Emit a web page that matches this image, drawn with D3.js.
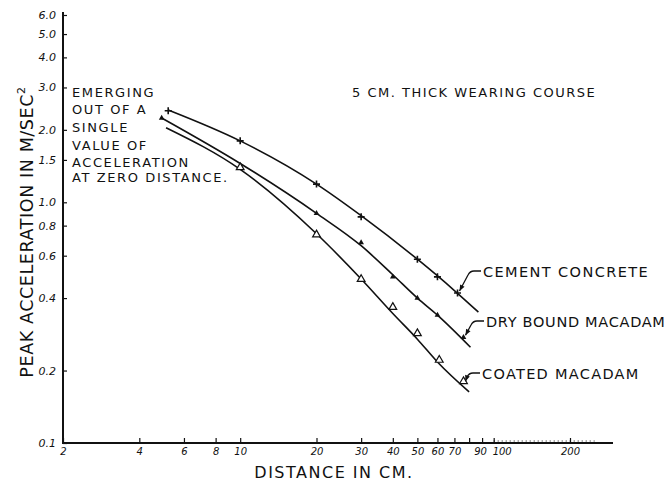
<!DOCTYPE html>
<html>
<head>
<meta charset="utf-8">
<script src="https://cdn.jsdelivr.net/npm/d3@7"></script>
<style>
  body { margin: 0; background: #fff; }
  svg text { font-family: "DejaVu Sans", sans-serif; fill: #111; }
</style>
</head>
<body>
<div id="app"></div>
<script>
// values (distance in cm, peak acceleration in m/s^2)
var xTicks = [2, 4, 6, 8, 10, 20, 30, 40, 50, 60, 70, 80, 90, 100, 200]
var xLabels = [2, 4, 6, 8, 10, 20, 30, 40, 50, 60, 70, 90, 100, 200]
var yTicks = [0.1, 0.2, 0.4, 0.6, 0.8, 1.0, 1.5, 2.0, 3.0, 4.0, 5.0, 6.0]

var cementLineX = [5.2, 10, 20, 30, 50, 70, 87]
var cementLineY = [2.42, 1.8, 1.19, 0.88, 0.58, 0.43, 0.35]
var cementPtsX = [5.2, 10, 20, 30, 50, 60, 72]
var cementPtsY = [2.4, 1.8, 1.19, 0.87, 0.58, 0.49, 0.42]

var dryLineX = [4.9, 10, 20, 30, 40, 50, 60, 81]
var dryLineY = [2.24, 1.45, 0.9, 0.66, 0.5, 0.4, 0.34, 0.25]
var dryPtsX = [4.9, 20, 30, 40, 50, 60, 76]
var dryPtsY = [2.24, 0.9, 0.68, 0.49, 0.4, 0.34, 0.275]

var coatedLineX = [5.1, 10, 20, 30, 40, 50, 60, 80]
var coatedLineY = [2.04, 1.37, 0.74, 0.48, 0.345, 0.27, 0.217, 0.163]
var coatedPtsX = [10, 20, 30, 40, 50, 61, 76]
var coatedPtsY = [1.37, 0.72, 0.47, 0.36, 0.28, 0.217, 0.177]

var noteLines = ['EMERGING', 'OUT OF A', 'SINGLE', 'VALUE OF', 'ACCELERATION', 'AT ZERO DISTANCE.']

var width = 670, height = 481

var x = d3.scaleLog().domain([2, 200]).range([63, 570])
var y = d3.scaleLog().domain([0.1, 6]).range([443, 15])

var svg = d3.select('#app').append('svg')
  .attr('width', width)
  .attr('height', height)

// x axis: ticks point up into the plot
var xAxis = d3.axisTop(x).tickValues(xTicks).tickSize(5)
  .tickFormat(function (d) { return xLabels.indexOf(d) >= 0 ? d : '' })
var gx = svg.append('g').attr('transform', 'translate(0,443)').call(xAxis)
gx.select('.domain').remove()
gx.selectAll('text').attr('y', 12).attr('font-size', 10)
  .attr('font-style', 'italic')
  .attr('dx', function (d) { return d === 100 ? 8 : (d === 90 ? -2 : 0) })
gx.selectAll('line').attr('stroke', '#111').attr('stroke-width', 1.2)
svg.append('line')
  .attr('x1', 63).attr('x2', 613).attr('y1', 443).attr('y2', 443)
  .attr('stroke', '#111').attr('stroke-width', 2)
// dotted minor ticks between 100 and 200
svg.append('line')
  .attr('x1', x(100)).attr('x2', x(250)).attr('y1', 441).attr('y2', 441)
  .attr('stroke', '#111').attr('stroke-width', 1).attr('stroke-dasharray', '1,3')

var yAxis = d3.axisRight(y).tickValues(yTicks).tickSize(4)
  .tickFormat(function (d) { return d3.format('.1f')(d) })
var gy = svg.append('g').attr('transform', 'translate(63,0)').call(yAxis)
gy.select('.domain').remove()
gy.selectAll('text').attr('x', -7).attr('text-anchor', 'end')
  .attr('font-size', 11).attr('font-style', 'italic')
gy.selectAll('line').attr('stroke', '#111').attr('stroke-width', 1.2)
svg.append('line')
  .attr('x1', 63).attr('x2', 63).attr('y1', 12).attr('y2', 444)
  .attr('stroke', '#111').attr('stroke-width', 2)

// axis titles
svg.append('text')
  .attr('x', 334).attr('y', 478)
  .attr('text-anchor', 'middle')
  .attr('font-size', 16)
  .attr('letter-spacing', 1.5)
  .text('DISTANCE IN CM.')

svg.append('text')
  .attr('transform', 'translate(33,232) rotate(-90)')
  .attr('text-anchor', 'middle')
  .attr('font-size', 17.5)
  .attr('letter-spacing', 0.6)
  .html('PEAK ACCELERATION IN M/SEC<tspan dy="-8" font-size="11">2</tspan>')

// curves
var line = d3.line()
  .x(function (d) { return x(d[0]) })
  .y(function (d) { return y(d[1]) })
  .curve(d3.curveMonotoneX)

var series = [
  { name: 'CEMENT CONCRETE', lx: cementLineX, ly: cementLineY, px: cementPtsX, py: cementPtsY, mark: 'cross', lab: [483, 277], ls: 1.4 },
  { name: 'DRY BOUND MACADAM', lx: dryLineX, ly: dryLineY, px: dryPtsX, py: dryPtsY, mark: 'dot', lab: [486, 327], ls: 0.7 },
  { name: 'COATED MACADAM', lx: coatedLineX, ly: coatedLineY, px: coatedPtsX, py: coatedPtsY, mark: 'tri', lab: [482, 379], ls: 1.3 }
]

series.forEach(function (s) {
  var pts = s.lx.map(function (v, i) { return [v, s.ly[i]] })
  svg.append('path')
    .attr('d', line(pts))
    .attr('fill', 'none')
    .attr('stroke', '#111')
    .attr('stroke-width', 1.6)

  var marks = s.px.map(function (v, i) { return [x(v), y(s.py[i])] })
  var g = svg.append('g')
  marks.forEach(function (m) {
    if (s.mark === 'cross') {
      g.append('path')
        .attr('d', 'M' + (m[0] - 3.5) + ',' + m[1] + 'h7M' + m[0] + ',' + (m[1] - 3.5) + 'v7')
        .attr('stroke', '#111').attr('stroke-width', 1.6)
    } else if (s.mark === 'dot') {
      g.append('path')
        .attr('d', d3.symbol(d3.symbolTriangle, 14)())
        .attr('transform', 'translate(' + m[0] + ',' + m[1] + ')')
        .attr('fill', '#111')
    } else {
      g.append('path')
        .attr('d', d3.symbol(d3.symbolTriangle, 26)())
        .attr('transform', 'translate(' + m[0] + ',' + (m[1] - 2) + ')')
        .attr('fill', '#fff').attr('stroke', '#111').attr('stroke-width', 1.2)
    }
  })

  // label with hooked leader arrow pointing at the last marker
  var end = marks[marks.length - 1]
  var lx = s.lab[0] - 2, ly = s.lab[1] - 6
  svg.append('path')
    .attr('d', 'M' + lx + ',' + ly + 'h-7q-4,0 -6,4L' + (end[0] + 2) + ',' + (end[1] - 2))
    .attr('fill', 'none').attr('stroke', '#111').attr('stroke-width', 1.3)
  var ang = Math.atan2(end[1] - 2 - (ly + 4), end[0] + 2 - (lx - 13))
  var ax = end[0] + 2, ay = end[1] - 2
  svg.append('path')
    .attr('d', 'M0,0L-6,-2.5L-6,2.5Z')
    .attr('transform', 'translate(' + ax + ',' + ay + ') rotate(' + (ang * 180 / Math.PI) + ')')
    .attr('fill', '#111')
  svg.append('text')
    .attr('x', s.lab[0]).attr('y', s.lab[1])
    .attr('font-size', 14.5)
    .attr('letter-spacing', s.ls)
    .text(s.name)
})

// annotations
svg.append('text')
  .attr('x', 352).attr('y', 97)
  .attr('font-size', 13)
  .attr('letter-spacing', 1.5)
  .text('5 CM. THICK WEARING COURSE')

svg.append('text')
  .attr('x', 72).attr('y', 97)
  .attr('font-size', 13)
  .attr('letter-spacing', 1.6)
  .selectAll('tspan')
  .data(noteLines)
  .enter()
  .append('tspan')
  .attr('x', 72)
  .attr('y', function (d, i) { return [97, 114, 132, 150, 167, 182][i] })
  .text(function (d) { return d })
</script>
</body>
</html>
